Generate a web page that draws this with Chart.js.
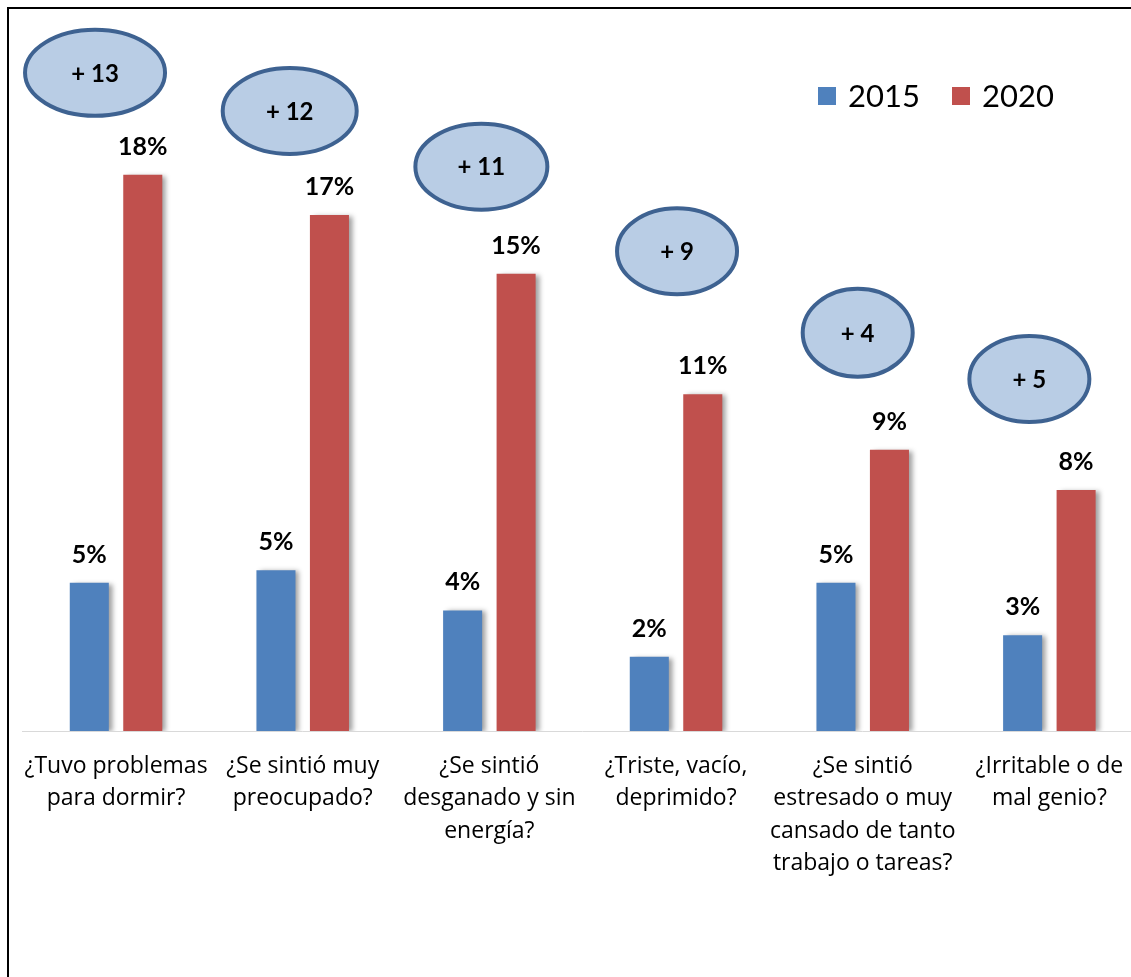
<!DOCTYPE html>
<html>
<head>
<meta charset="utf-8">
<script src="https://cdn.jsdelivr.net/npm/chart.js@4.4.1/dist/chart.umd.min.js"></script>
<style>
  html, body { margin: 0; padding: 0; background: #fff; overflow: hidden; }
  #wrap { position: relative; width: 1131px; height: 977px; overflow: hidden; }
  #c { position: absolute; left: 0; top: 0; }
</style>
</head>
<body>
<div id="wrap">
  <canvas id="c" width="1150" height="977"></canvas>
</div>
<script>
// ---- Data ----
const categories = [
  ["¿Tuvo problemas", "para dormir?"],
  ["¿Se sintió muy", "preocupado?"],
  ["¿Se sintió", "desganado y sin", "energía?"],
  ["¿Triste, vacío,", "deprimido?"],
  ["¿Se sintió", "estresado o muy", "cansado de tanto", "trabajo o tareas?"],
  ["¿Irritable o de", "mal genio?"]
];
const seriesNames = ["2015", "2020"];
const values2015 = [4.8, 5.2, 3.9, 2.4, 4.8, 3.1];
const values2020 = [18.0, 16.7, 14.8, 10.9, 9.1, 7.8];
const differences = [13, 12, 11, 9, 4, 5];

// ---- Styles ----
const BLUE = "#4f81bd";
const RED = "#c0504d";
const FONT = "Lato, 'Open Sans', sans-serif";
const TICK_FONT = "'Open Sans', Lato, sans-serif";
// ellipse annotation placement relative to each category centre / 2020 bar top
const bubbleStyle = [
  { dx: -21, dy: -102, rx: 70, ry: 43 },
  { dx: -13, dy: -104, rx: 67, ry: 43 },
  { dx: -8,  dy: -107, rx: 66, ry: 43 },
  { dx: 1,   dy: -143, rx: 60, ry: 43 },
  { dx: -5,  dy: -117, rx: 55, ry: 44 },
  { dx: -20, dy: -111, rx: 60, ry: 43 }
];

const framePlugin = {
  id: "frame",
  afterDraw(chart) {
    const ctx = chart.ctx;
    ctx.save();
    ctx.strokeStyle = "#000";
    ctx.lineWidth = 2;
    ctx.beginPath();
    ctx.moveTo(8, 990);
    ctx.lineTo(8, 8);
    ctx.lineTo(1160, 8);
    ctx.stroke();
    ctx.restore();
  }
};

const shadowPlugin = {
  id: "shadow",
  beforeDatasetsDraw(chart) {
    const ctx = chart.ctx;
    ctx.save();
    ctx.shadowColor = "rgba(0,0,0,0.38)";
    ctx.shadowOffsetX = 4;
    ctx.shadowOffsetY = 1;
    ctx.shadowBlur = 5;
  },
  afterDatasetsDraw(chart) {
    chart.ctx.restore();
  }
};

const labelsPlugin = {
  id: "valueLabels",
  afterDatasetsDraw(chart) {
    const ctx = chart.ctx;
    ctx.save();
    ctx.fillStyle = "#000";
    ctx.font = "bold 25px " + FONT;
    ctx.textAlign = "center";
    ctx.textBaseline = "alphabetic";
    chart.data.datasets.forEach((ds, di) => {
      const meta = chart.getDatasetMeta(di);
      meta.data.forEach((bar, i) => {
        ctx.fillText(Math.round(ds.data[i]) + "%", bar.x, bar.y - 20);
      });
    });

    // difference bubbles
    const xs = chart.scales.x, ys = chart.scales.y;
    differences.forEach((d, i) => {
      const st = bubbleStyle[i];
      const cx = xs.getPixelForValue(i) + st.dx;
      const cy = ys.getPixelForValue(values2020[i]) + st.dy;
      ctx.beginPath();
      ctx.ellipse(cx, cy, st.rx, st.ry, 0, 0, Math.PI * 2);
      ctx.fillStyle = "#b9cde5";
      ctx.fill();
      ctx.lineWidth = 4;
      ctx.strokeStyle = "#3e6291";
      ctx.stroke();
      ctx.fillStyle = "#000";
      ctx.font = "bold 24px " + FONT;
      ctx.textBaseline = "middle";
      ctx.fillText("+ " + d, cx, cy + 1);
    });

    // legend
    ctx.textAlign = "left";
    ctx.textBaseline = "alphabetic";
    ctx.font = "31px " + FONT;
    let lx = 818;
    chart.data.datasets.forEach((ds) => {
      ctx.fillStyle = ds.backgroundColor;
      ctx.fillRect(lx, 87, 18, 18);
      ctx.fillStyle = "#000";
      ctx.fillText(ds.label, lx + 30, 107);
      lx += 134;
    });
    ctx.restore();
  }
};

new Chart(document.getElementById("c"), {
  type: "bar",
  data: {
    labels: categories,
    datasets: [
      { label: seriesNames[0], data: values2015, backgroundColor: BLUE },
      { label: seriesNames[1], data: values2020, backgroundColor: RED }
    ]
  },
  options: {
    responsive: false,
    animation: false,
    devicePixelRatio: 1,
    layout: { padding: { left: 22.7, right: 7.3, top: 113, bottom: 0 } },
    datasets: { bar: { categoryPercentage: 0.573, barPercentage: 0.73 } },
    plugins: { legend: { display: false }, tooltip: { enabled: false } },
    scales: {
      x: {
        grid: { display: false, drawTicks: false, tickLength: 0 },
        border: { display: true, color: "#d9d9d9", width: 1 },
        ticks: {
          color: "#000",
          font: { family: TICK_FONT, size: 23, lineHeight: 1.41 },
          padding: 19,
          maxRotation: 0,
          autoSkip: false
        },
        afterFit(scale) { scale.height = 246; }
      },
      y: {
        display: false,
        min: 0,
        max: 20
      }
    }
  },
  plugins: [shadowPlugin, labelsPlugin, framePlugin]
});
</script>
</body>
</html>
